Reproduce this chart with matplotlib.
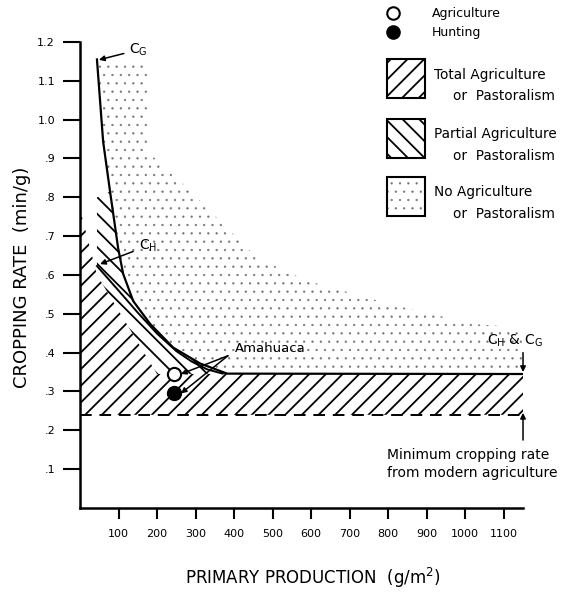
import numpy as np
import matplotlib
matplotlib.use("Agg")
import matplotlib.pyplot as plt
from matplotlib.patches import Rectangle
from matplotlib.lines import Line2D

plt.rcParams['font.family'] = ['DejaVu Sans']
plt.rcParams['hatch.linewidth'] = 1.3

# C_G curve (g/m2, min/g)
cg_x = [44, 60, 78, 99, 112, 138, 182, 242, 312, 382]
cg_y = [1.155, 0.944, 0.815, 0.669, 0.603, 0.533, 0.474, 0.413, 0.372, 0.346]
# C_H curve
ch_x = [44, 100, 150, 200, 250, 290, 330, 370]
ch_y = [0.623, 0.560, 0.503, 0.449, 0.404, 0.377, 0.357, 0.346]
# common plateau and minimum modern cropping rate
plateau_y = 0.345
min_rate = 0.24
x_max = 1150
# upper edge of the stippled (no agriculture) zone
stip_x = [1150, 1021, 805, 590, 460, 330, 242, 174, 174]
stip_y = [0.464, 0.474, 0.525, 0.585, 0.644, 0.772, 0.859, 0.918, 1.15]
# total agriculture zone boundary (left side)
tot_x = [200, 44, 0]
tot_y = [0.345, 0.60, 0.77]
# partial agriculture zone top
part_top = 0.80
# Amahuaca points
ama_x = [245, 245]
ama_y = [0.345, 0.295]

xticks = [100, 200, 300, 400, 500, 600, 700, 800, 900, 1000, 1100]
yticks = [0.1, 0.2, 0.3, 0.4, 0.5, 0.6, 0.7, 0.8, 0.9, 1.0, 1.1, 1.2]
ytick_labels = ['.1', '.2', '.3', '.4', '.5', '.6', '.7', '.8', '.9', '1.0', '1.1', '1.2']


def thin_hatch(p, w):
    if hasattr(p, 'set_hatch_linewidth'):
        p.set_hatch_linewidth(w)


fig = plt.figure(figsize=(5.63, 5.92), dpi=100)
ax = fig.add_axes([0.1421, 0.1419, 0.7869, 0.7872])
ax.set_xlim(0, x_max)
ax.set_ylim(0, 1.2)

# stippled zone
px = list(cg_x) + [x_max] + stip_x + [cg_x[0]]
py = list(cg_y) + [plateau_y] + stip_y + [cg_y[0]]
st = ax.fill(px, py, facecolor='none', edgecolor='0.45', linewidth=0, hatch='..')[0]
thin_hatch(st, 0.4)

# partial agriculture zone
sel = [i for i in range(len(cg_x)) if cg_y[i] <= 0.82]
px = [44] + [cg_x[i] for i in sel] + [tot_x[0], tot_x[1], 44]
py = [part_top] + [cg_y[i] for i in sel] + [tot_y[0], tot_y[1], part_top]
ax.fill(px, py, facecolor='none', edgecolor='k', linewidth=0, hatch='\\\\')

# total agriculture zone
px = [0, x_max, x_max] + tot_x
py = [min_rate, min_rate, plateau_y] + tot_y
ax.fill(px, py, facecolor='none', edgecolor='k', linewidth=0, hatch='//')

# curves
ax.plot(cg_x + [x_max], cg_y + [plateau_y], color='k', lw=1.6)
ax.plot(ch_x, ch_y, color='k', lw=1.4)
ax.plot([0, x_max], [min_rate, min_rate], color='k', lw=1.4, ls=(0, (6, 4)))

# Amahuaca
ax.plot(ama_x[0], ama_y[0], 'o', ms=9.5, mfc='white', mec='k', mew=1.5, zorder=5)
ax.plot(ama_x[1], ama_y[1], 'o', ms=10, mfc='k', mec='k', zorder=5)
ax.text(403, 0.41, 'Amahuaca', fontsize=9.5, va='center', ha='left')
for yy in ama_y:
    ax.annotate('', xy=(262, yy), xytext=(384, 0.392),
                arrowprops=dict(arrowstyle='-|>', color='k', lw=1.1,
                                mutation_scale=8, shrinkA=0, shrinkB=0))

# curve labels
ax.annotate(r'$\mathregular{C_G}$', xy=(49, 1.154), xytext=(128, 1.18),
            fontsize=10, va='center', ha='left',
            arrowprops=dict(arrowstyle='-|>', color='k', lw=1.1,
                            mutation_scale=8, shrinkA=2, shrinkB=0))
ax.annotate(r'$\mathregular{C_H}$', xy=(52, 0.628), xytext=(152, 0.675),
            fontsize=10, va='center', ha='left',
            arrowprops=dict(arrowstyle='-|>', color='k', lw=1.1,
                            mutation_scale=8, shrinkA=2, shrinkB=0))
ax.text(1057, 0.43, r'$\mathregular{C_H}$ & $\mathregular{C_G}$', fontsize=10,
        va='center', ha='left', clip_on=False)
ax.annotate('', xy=(x_max, 0.35), xytext=(x_max, 0.40),
            arrowprops=dict(arrowstyle='-|>', color='k', lw=1.1,
                            mutation_scale=8, shrinkA=0, shrinkB=0),
            annotation_clip=False)
ax.annotate('', xy=(x_max, 0.245), xytext=(x_max, 0.175),
            arrowprops=dict(arrowstyle='-|>', color='k', lw=1.1,
                            mutation_scale=8, shrinkA=0, shrinkB=0),
            annotation_clip=False)
ax.text(797, 0.136, 'Minimum cropping rate', fontsize=10, va='center', ha='left',
        clip_on=False)
ax.text(797, 0.090, 'from modern agriculture', fontsize=10, va='center', ha='left',
        clip_on=False)

# axes styling
for s in ['top', 'right']:
    ax.spines[s].set_visible(False)
for s in ['left', 'bottom']:
    ax.spines[s].set_linewidth(1.8)
ax.set_xticks(xticks)
ax.set_xticklabels([str(v) for v in xticks])
ax.set_yticks(yticks)
ax.set_yticklabels(ytick_labels)
ax.tick_params(axis='x', length=8, width=1.5, pad=7, labelsize=8)
ax.tick_params(axis='y', length=12, width=1.5, pad=6, labelsize=8)

fig.text(0.039, 0.532, 'CROPPING RATE  (min/g)', rotation=90, fontsize=13,
         ha='center', va='center')
fig.text(0.555, 0.024, r'PRIMARY PRODUCTION  (g/m$^\mathregular{2}$)', fontsize=12,
         ha='center', va='center')

# legend
fig.add_artist(Line2D([0.698], [0.978], marker='o', ms=9, mfc='white', mec='k',
                      mew=1.5, transform=fig.transFigure))
fig.add_artist(Line2D([0.698], [0.946], marker='o', ms=9.5, mfc='k', mec='k',
                      transform=fig.transFigure))
fig.text(0.767, 0.978, 'Agriculture', fontsize=9, va='center')
fig.text(0.767, 0.945, 'Hunting', fontsize=9, va='center')

boxes = [(0.834, '//', 'k', 'Total Agriculture'),
         (0.733, '\\\\', 'k', 'Partial Agriculture'),
         (0.635, '..', '0.45', 'No Agriculture')]
for by, hatch, hc, label in boxes:
    r = Rectangle((0.687, by), 0.0675, 0.066, transform=fig.transFigure,
                  fill=False, edgecolor=hc, linewidth=0, hatch=hatch)
    if hatch == '..':
        thin_hatch(r, 0.4)
    fig.add_artist(r)
    fig.add_artist(Rectangle((0.687, by), 0.0675, 0.066, transform=fig.transFigure,
                             fill=False, edgecolor='k', linewidth=1.5))
    fig.text(0.770, by + 0.040, label, fontsize=9.8, va='center')
    fig.text(0.805, by + 0.003, 'or  Pastoralism', fontsize=9.8, va='center')

fig.savefig('out.png', dpi=100)
